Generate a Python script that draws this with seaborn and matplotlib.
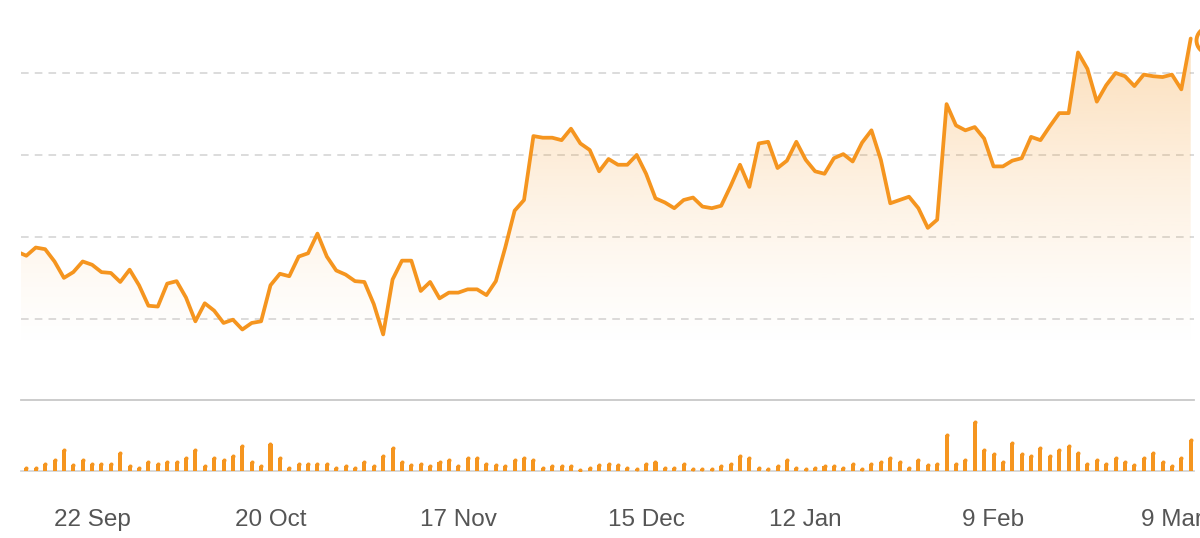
import numpy as np
import pandas as pd
import seaborn as sns
import matplotlib.pyplot as plt
from matplotlib.colors import to_rgb

sns.set_style('white')
plt.rcParams['font.family'] = ['Liberation Sans', 'DejaVu Sans']

# --- data (trading days, TSX calendar) ---
start_date = '2025-09-10'
end_date = '2026-03-11'
holidays = ['2025-10-13', '2025-12-25', '2025-12-26', '2026-01-01', '2026-02-16']

price = [
    10.82, 10.77, 10.87, 10.85, 10.70, 10.50, 10.57, 10.70, 10.66, 10.57,
    10.56, 10.45, 10.60, 10.41, 10.16, 10.15, 10.43, 10.46, 10.26, 9.97,
    10.19, 10.10, 9.95, 9.99, 9.87, 9.95, 9.97, 10.41, 10.55, 10.52,
    10.76, 10.80, 11.04, 10.76, 10.59, 10.54, 10.46, 10.45, 10.18, 9.81,
    10.48, 10.71, 10.71, 10.34, 10.45, 10.25, 10.32, 10.32, 10.36, 10.36,
    10.29, 10.46, 10.87, 11.32, 11.45, 12.23, 12.21, 12.21, 12.18, 12.32,
    12.14, 12.06, 11.80, 11.95, 11.88, 11.88, 12.00, 11.77, 11.47, 11.42,
    11.35, 11.45, 11.48, 11.37, 11.35, 11.38, 11.62, 11.88, 11.61, 12.14,
    12.16, 11.84, 11.93, 12.16, 11.94, 11.80, 11.77, 11.96, 12.01, 11.92,
    12.15, 12.30, 11.94, 11.41, 11.45, 11.49, 11.35, 11.11, 11.21, 12.62,
    12.36, 12.30, 12.34, 12.20, 11.86, 11.86, 11.93, 11.96, 12.22, 12.18,
    12.35, 12.51, 12.51, 13.25, 13.05, 12.65, 12.85, 13.00, 12.96, 12.84,
    12.98, 12.96, 12.95, 12.98, 12.80, 13.42,
]

# volume in thousands
volume = [
    40, 30, 30, 73, 107, 207, 57, 107, 73, 73,
    73, 183, 50, 30, 90, 73, 90, 90, 130, 207,
    50, 130, 107, 147, 247, 90, 50, 267, 130, 30,
    73, 73, 73, 73, 30, 50, 30, 90, 50, 147,
    230, 90, 57, 73, 50, 90, 107, 50, 130, 130,
    73, 57, 50, 107, 130, 107, 30, 50, 50, 50,
    7, 30, 60, 73, 57, 30, 17, 73, 90, 30,
    30, 73, 17, 17, 17, 50, 73, 147, 130, 30,
    17, 50, 107, 30, 17, 30, 50, 50, 30, 73,
    17, 73, 90, 130, 90, 30, 107, 57, 73, 363,
    73, 107, 490, 207, 167, 90, 283, 167, 147, 230,
    147, 207, 247, 183, 73, 107, 73, 130, 90, 57,
    130, 183, 90, 50, 130, 307,
]

tick_dates = ['2025-09-22', '2025-10-20', '2025-11-17', '2025-12-15',
              '2026-01-12', '2026-02-09', '2026-03-09']
tick_labels = ['22 Sep', '20 Oct', '17 Nov', '15 Dec', '12 Jan', '9 Feb', '9 Mar']
grid_levels = [10, 11, 12, 13]
live_price = 13.40

ORANGE = '#f5951f'
BAR_W = 0.43

dates = pd.bdate_range(start_date, end_date)
dates = dates[~dates.isin(pd.to_datetime(holidays))]
df = pd.DataFrame({'date': dates, 'price': price, 'volume': volume})
df['i'] = np.arange(len(df))
tick_pos = dates.get_indexer(pd.to_datetime(tick_dates))

fig = plt.figure(figsize=(12, 5.38), dpi=100)
ax = fig.add_axes([0.0175, 0.2565, 0.9775, 0.7435])
axv = fig.add_axes([0.0175, 0.1245, 0.9775, 0.132])

xlim = (0.43, 125.35)
ylim = (9.01, 13.89)

# --- price line with gradient fill ---
sns.lineplot(data=df, x='i', y='price', color=ORANGE, linewidth=2.7, ax=ax, zorder=4)
ax.lines[0].set_solid_joinstyle('round')
ax.lines[0].set_solid_capstyle('round')

v = np.linspace(ylim[0], ylim[1], 256)
alpha = 0.36 * np.clip((v - 9.6) / (ylim[1] - 9.6), 0, 1) ** 1.3
grad = np.zeros((256, 1, 4))
grad[..., :3] = to_rgb(ORANGE)
grad[:, 0, 3] = alpha
im = ax.imshow(grad, extent=[xlim[0], xlim[1], ylim[0], ylim[1]], origin='lower',
               aspect='auto', zorder=1)
poly = ax.fill_between(df['i'], df['price'], ylim[0], facecolor='none', edgecolor='none')
im.set_clip_path(poly.get_paths()[0], transform=ax.transData)

ax.scatter([len(df) + 1], [live_price], s=350, facecolor='white', edgecolor=ORANGE,
           linewidth=2.8, clip_on=False, zorder=6)

ax.set_xlim(*xlim)
ax.set_ylim(*ylim)
ax.set_yticks(grid_levels)
ax.set(xlabel='', ylabel='')
ax.tick_params(left=False, labelleft=False, bottom=False, labelbottom=False)
ax.grid(axis='y', color='#d2d2d2', linewidth=1.1, linestyle=(0, (5, 4)))
ax.grid(axis='x', visible=False)
for s in ax.spines.values():
    s.set_visible(False)

# --- volume bars (rounded tops) ---
sns.barplot(data=df, x='i', y='volume', native_scale=True, width=BAR_W,
            color=ORANGE, saturation=1, linewidth=0, ax=axv, zorder=3)
for p in axv.patches:
    cx = p.get_x() + p.get_width() / 2
    p.set_width(BAR_W)
    p.set_x(cx - BAR_W / 2)
sns.scatterplot(data=df, x='i', y='volume', color=ORANGE, s=8.3, linewidth=0,
                ax=axv, zorder=3)
axv.set_xlim(*xlim)
axv.set_ylim(0, 710)
axv.set(xlabel='', ylabel='')
axv.set_yticks([])
axv.set_xticks(tick_pos, tick_labels)
axv.tick_params(axis='x', length=13, width=1.2, color='#cfcfcf',
                labelcolor='#555555', labelsize=17.5, pad=14)
axv.spines['left'].set_visible(False)
axv.spines['right'].set_visible(False)
axv.spines['top'].set_color('#c8c8c8')
axv.spines['top'].set_linewidth(1.3)
axv.spines['bottom'].set_color('#d6d6d6')
axv.spines['bottom'].set_linewidth(1.3)

fig.savefig('out.png', dpi=100)
